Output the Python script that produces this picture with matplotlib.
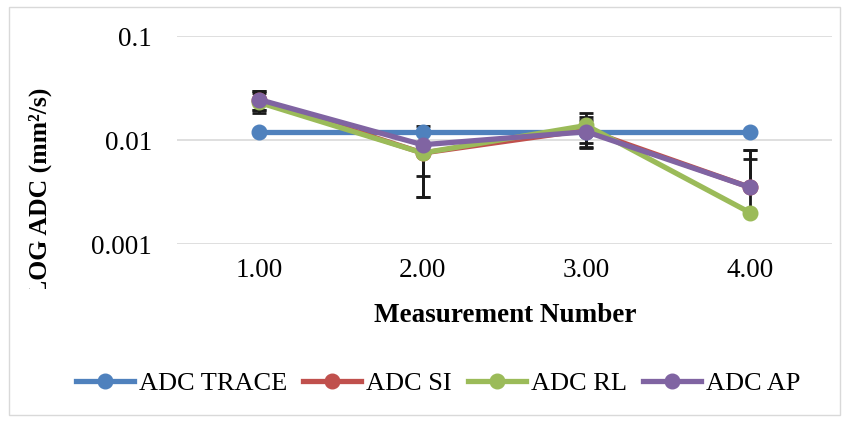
import matplotlib
matplotlib.use('Agg')
import matplotlib.pyplot as plt
from matplotlib.patches import Rectangle
from matplotlib.transforms import Bbox, TransformedBbox
import numpy as np

x = [1, 2, 3, 4]
xlabels = ['1.00', '2.00', '3.00', '4.00']

adc_trace = [0.012, 0.012, 0.012, 0.012]
adc_si = [0.0243, 0.0075, 0.0125, 0.0035]
adc_rl = [0.0230, 0.0075, 0.0138, 0.0020]
adc_ap = [0.0245, 0.0090, 0.0120, 0.0035]

err_si = [0.005, 0.0047, 0.0040, 0.0045]
err_rl = [0.005, 0.0047, 0.0045, 0.0046]
err_ap = [0.005, 0.0045, 0.0037, 0.0045]

plt.rcParams['font.family'] = 'Liberation Serif'
FS = 19.5

W, H = 850, 421
fig = plt.figure(figsize=(W / 100, H / 100), dpi=100)
ax = fig.add_axes([177/W, 1 - 244/H, 655/W, 208/H])

series = [
    ('ADC TRACE', adc_trace, None, '#4F81BD'),
    ('ADC SI', adc_si, err_si, '#C0504D'),
    ('ADC RL', adc_rl, err_rl, '#9BBB59'),
    ('ADC AP', adc_ap, err_ap, '#8064A2'),
]

for label, vals, err, color in series:
    ax.plot(x, vals, color=color, lw=3.8, marker='o', ms=10.5, label=label, zorder=3)
    if err is not None:
        vals = np.array(vals)
        err = np.array(err)
        lower = np.where(err >= vals, 0, err)
        ax.errorbar(x, vals, yerr=[lower, err], fmt='none', ecolor='#1a1a1a',
                    elinewidth=2, capsize=5, capthick=2, zorder=2)

ax.set_yscale('log')
ax.set_ylim(0.001, 0.1)
ax.set_xlim(0.5, 4.5)
ax.set_yticks([0.001, 0.01, 0.1])
ax.set_yticklabels(['0.001', '0.01', '0.1'])
ax.minorticks_off()
ax.set_xticks(x)
ax.set_xticklabels(xlabels)
ax.tick_params(length=0, labelsize=FS, pad=10)
ax.tick_params(axis='y', pad=18)
ax.grid(axis='y', color='#d9d9d9', lw=1.2, zorder=0)
for s in ax.spines.values():
    s.set_visible(False)

fig.text(505/W, 1 - 316/H, 'Measurement Number', fontsize=FS, fontweight='bold',
         ha='center', va='center')
ylab = fig.text(40/W, 1 - 192/H, 'LOG ADC (mm²/s)', fontsize=18.5, fontweight='bold',
                rotation=90, ha='center', va='center')
ylab.set_clip_box(TransformedBbox(Bbox([[0, 1 - 289/H], [1, 1]]), fig.transFigure))
ylab.set_clip_on(True)

fig.legend(loc='center', bbox_to_anchor=(438/W, 1 - 383/H), ncol=4, frameon=False,
           fontsize=19, handlelength=2.2, columnspacing=0.6, handletextpad=0.19)

fig.patches.append(Rectangle((9/W, 6/H), 831/W, 408/H, transform=fig.transFigure,
                             fill=False, edgecolor='#d9d9d9', lw=1))

fig.savefig('out.png', dpi=100)
